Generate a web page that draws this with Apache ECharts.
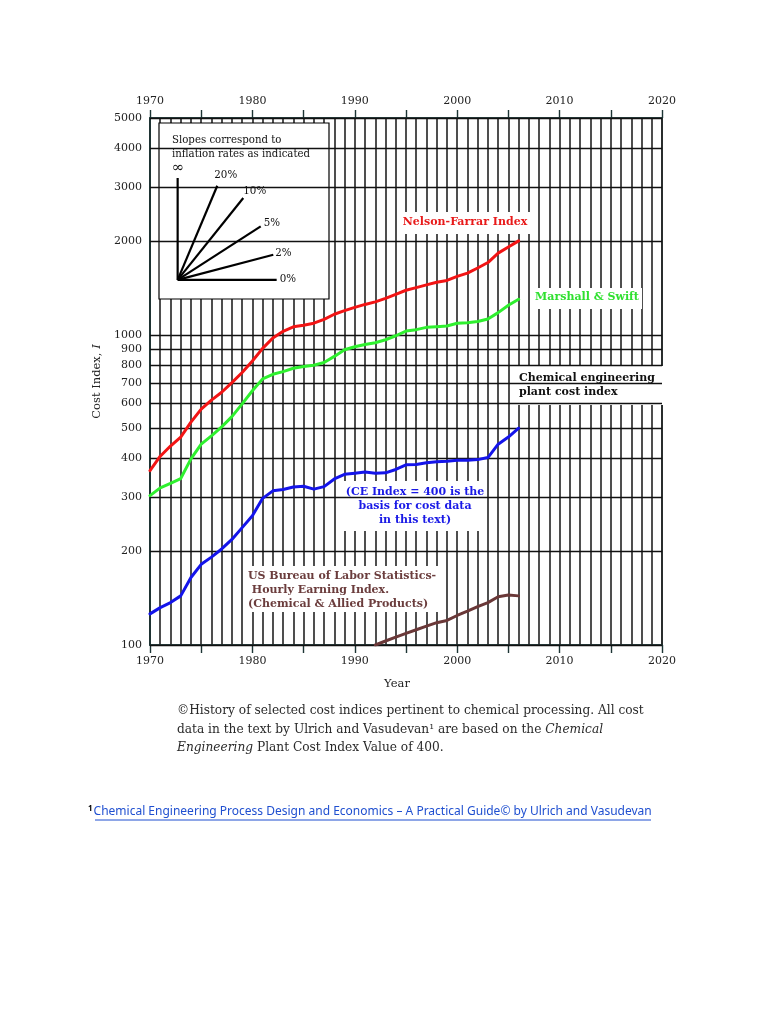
<!DOCTYPE html>
<html><head><meta charset="utf-8">
<script src="https://cdn.jsdelivr.net/npm/echarts@6/dist/echarts.min.js"></script>
<style>html,body{margin:0;padding:0;background:#fff}#c{width:768px;height:1024px}</style>
</head><body><div id="c"></div>
<script>
// ---- data ----
const years = [1970,1971,1972,1973,1974,1975,1976,1977,1978,1979,1980,1981,1982,1983,1984,1985,1986,1987,1988,1989,1990,1991,1992,1993,1994,1995,1996,1997,1998,1999,2000,2001,2002,2003,2004,2005,2006];
const nelsonFarrar = [365,406,438,468,523,576,616,653,701,756,823,904,977,1026,1061,1074,1090,1122,1165,1196,1226,1253,1277,1311,1350,1392,1419,1449,1478,1497,1543,1580,1642,1710,1834,1919,2008];
const marshallSwift = [303,321,332,344,398,444,472,505,545,599,660,721,746,761,780,790,798,814,852,895,915,931,943,964,993,1028,1039,1057,1062,1068,1089,1094,1104,1124,1179,1245,1302];
const cepci = [126,132,137,144,165,182,192,204,219,239,261,297,314,317,323,325,318,324,343,355,358,361,358,359,368,381,382,387,390,391,394,394,396,402,444,468,500];
const blsYears = [1992,1993,1994,1995,1996,1997,1998,1999,2000,2001,2002,2003,2004,2005,2006];
const blsEarnings = [100,103,106,109,112,115,118,120,124.5,128.5,133,137,143,145,144];
const yTickValues = [100,200,300,400,500,600,700,800,900,1000,2000,3000,4000,5000];
// inset slope guides: common origin and end points (year, index)
const guideOrigin = [1972.7, 1504];
const guideNames = ['∞','20%','10%','5%','2%','0%'];
const guideEnds = [[1972.7,3203],[1976.57,3024],[1979.11,2761],[1980.81,2236],[1982.04,1812],[1982.37,1504]];

const serif = '"DejaVu Serif", "Liberation Serif", serif';
const guideLabelOffsets = [[-7,-10],[-4,-10],[-1,-7],[2,-3],[1,-1],[2,-1]];

const chart = echarts.init(document.getElementById('c'), null, {renderer:'canvas'});

const xAxisBase = (pos) => ({
  type:'value', position: pos, min:1970, max:2020, interval:5,
  axisLine:{show:true, lineStyle:{color:'#1d3535', width:1.6}},
  axisTick:{show:true, inside:false, length:8, lineStyle:{color:'#1d3535', width:1.4}},
  axisLabel:{show:true, margin:11, color:'#222', fontFamily:serif, fontSize:11,
    formatter:(v)=> (v % 10 === 0 ? String(v) : '')},
  splitLine:{show: pos==='bottom', lineStyle:{color:'#222', width:1.6}},
  minorTick:{show:false, splitNumber:5},
  minorSplitLine:{show: pos==='bottom', lineStyle:{color:'#222', width:1.6}}
});

const mkLine = (name, xs, ys, color) => ({
  name, type:'line', z:5, symbol:'none', smooth:false, animation:false,
  lineStyle:{color, width:3, join:'round', cap:'round'},
  data: xs.map((x,i)=>[x, ys[i]])
});

const series = [
  { // horizontal grid lines at the labelled values
    type:'line', z:1, data:[], silent:true,
    markLine:{ silent:true, symbol:['none','none'], animation:false,
      label:{show:false},
      lineStyle:{color:'#111', width:1.4, type:'solid'},
      data: yTickValues.map(v=>({yAxis:v})) }
  },
  mkLine('Nelson-Farrar Index', years, nelsonFarrar, '#f21414'),
  mkLine('Marshall & Swift', years, marshallSwift, '#2ff02f'),
  mkLine('Chemical engineering plant cost index', years, cepci, '#1414ea'),
  mkLine('US Bureau of Labor Statistics', blsYears, blsEarnings, '#6a3838')
];
guideNames.forEach((n, i) => {
  series.push({
    name:n, type:'line', z:6, symbol:'none', animation:false,
    lineStyle:{color:'#000', width:2.2},
    data:[guideOrigin, guideEnds[i]],
    endLabel:{show:true, formatter:n, distance:1, offset:guideLabelOffsets[i],
      color:'#111', fontFamily:serif, fontSize: i===0 ? 15 : 10.3}
  });
});

const rect = (x,y,w,h,stroke) => ({type:'rect', z:3, shape:{x,y,width:w,height:h},
  style:{fill:'#fff', stroke: stroke || null, lineWidth: stroke ? 1.2 : 0}});
const txt = (text, x, y, color, opts) => Object.assign({type:'text', z:4,
  style:Object.assign({text, x, y, fill:color, font:'bold 11px ' + serif,
    textAlign:'center', textVerticalAlign:'middle'}, (opts||{}))});

const graphic = [
  rect(159,123,170,176,'#000'),
  txt('Slopes correspond to', 172, 140, '#111', {font:'10.2px ' + serif, textAlign:'left'}),
  txt('inflation rates as indicated', 172, 154.5, '#111', {font:'10.2px ' + serif, textAlign:'left'}),
  rect(398,212,134,22),
  txt('Nelson-Farrar Index', 465, 222, '#e81a1a'),
  rect(532,288,110,21),
  txt('Marshall & Swift', 587, 297.5, '#2fe02f'),
  rect(513,366,152,39),
  txt('Chemical engineering', 519, 378, '#111', {textAlign:'left'}),
  txt('plant cost index', 519, 392, '#111', {textAlign:'left'}),
  rect(337,481,150,50),
  txt('(CE Index = 400 is the', 415, 492, '#1a1ae6'),
  txt('basis for cost data', 415, 506.5, '#1a1ae6'),
  txt('in this text)', 415, 520.5, '#1a1ae6'),
  rect(246,566,194,46),
  txt('US Bureau of Labor Statistics-', 248, 576, '#6b3d3d', {textAlign:'left'}),
  txt(' Hourly Earning Index.', 248, 590.5, '#6b3d3d', {textAlign:'left'}),
  txt('(Chemical & Allied Products)', 248, 604.5, '#6b3d3d', {textAlign:'left'}),
  { type:'text', z:4, style:{
      x:177, y:702, textAlign:'left', textVerticalAlign:'top', fill:'#2a2a2a',
      font:'12.2px ' + serif, lineHeight:18.5,
      text:'©History of selected cost indices pertinent to chemical processing. All cost\ndata in the text by Ulrich and Vasudevan¹ are based on the {it|Chemical}\n{it|Engineering} Plant Cost Index Value of 400.',
      rich:{ it:{fontStyle:'italic', fontFamily:serif, fontSize:12.2, fill:'#2a2a2a'} }
  }},
  { type:'text', z:4, style:{
      x:88, y:812, textAlign:'left', textVerticalAlign:'middle',
      text:'{s|1}{a|Chemical Engineering Process Design and Economics – A Practical Guide© by Ulrich and Vasudevan}',
      rich:{ s:{fontSize:8, fontWeight:'bold', fill:'#000', fontFamily:'"Noto Sans", sans-serif', verticalAlign:'top', padding:[0,1,6,0]},
             a:{fontSize:12, fill:'#1f4fd0', fontFamily:'"Noto Sans", sans-serif'} }
  }},
  { type:'line', z:4, shape:{x1:95, y1:820, x2:651, y2:820}, style:{stroke:'#1f4fd0', lineWidth:1} }
];

chart.setOption({
  animation:false,
  backgroundColor:'#fff',
  grid:{left:150, right:106, top:118, bottom:379, show:true, borderColor:'#1d3535', borderWidth:1.6, backgroundColor:'transparent'},
  xAxis:[
    Object.assign(xAxisBase('bottom'), {name:'Year', nameLocation:'middle', nameGap:33,
      nameTextStyle:{fontFamily:serif, fontSize:11.5, color:'#222', padding:[0,18,0,0]}}),
    xAxisBase('top')
  ],
  yAxis:{
    type:'log', logBase:10, min:100, max:5000,
    axisLine:{show:true, lineStyle:{color:'#1d3535', width:1.6}},
    axisTick:{show:false},
    axisLabel:{show:true, margin:8, color:'#222', fontFamily:serif, fontSize:11, customValues:yTickValues,
      formatter:(v)=> String(Math.round(v))},
    splitLine:{show:false},
    name:'Cost Index, {i|I}', nameLocation:'middle', nameGap:45, nameRotate:90,
    nameTextStyle:{fontFamily:serif, fontSize:11.5, color:'#222',
      rich:{i:{fontStyle:'italic', fontFamily:serif, fontSize:11.5, color:'#222'}}}
  },
  graphic:{elements:graphic},
  series
});
</script>
</body></html>
